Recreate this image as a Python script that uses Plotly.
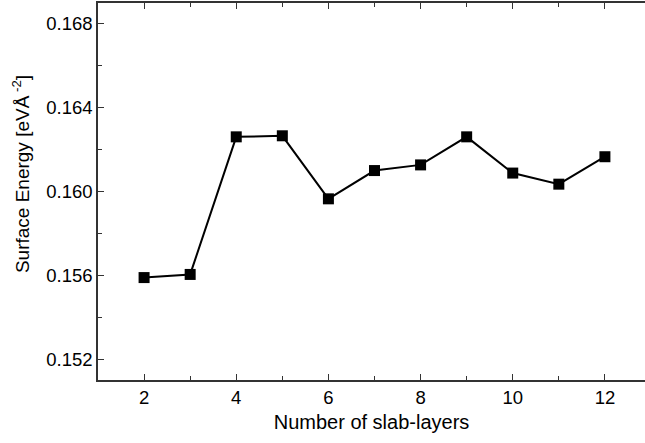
import plotly.graph_objects as go

# Slab thickness (number of layers) and computed surface energy
layers = [2, 3, 4, 5, 6, 7, 8, 9, 10, 11, 12]
surface_energy = [0.15589, 0.15604, 0.16261, 0.16266, 0.15965, 0.16100,
                  0.16127, 0.16261, 0.16088, 0.16035, 0.16166]

x_ticks = [2, 4, 6, 8, 10, 12]
y_ticks = [0.152, 0.156, 0.160, 0.164, 0.168]
y_tick_text = ["0.152", "0.156", "0.160", "0.164", "0.168"]

axis_color = "#333333"
font_family = "Liberation Sans, Arial, sans-serif"

fig = go.Figure()
fig.add_trace(go.Scatter(
    x=layers, y=surface_energy,
    mode="lines+markers",
    line=dict(color="black", width=2),
    marker=dict(symbol="square", size=11, color="black"),
    showlegend=False,
))

common_axis = dict(
    showline=True, linecolor=axis_color, linewidth=1.5,
    ticks="inside", ticklen=6, tickwidth=1.2,
    tickcolor=axis_color, showgrid=False, zeroline=False,
)

# bottom axis, mirrored on top (frame continues past the right edge)
fig.update_xaxes(
    range=[1, 12.87], tickvals=x_ticks, mirror="allticks",
    tickfont=dict(family=font_family, size=18.5, color="black"),
    minor=dict(dtick=1, tick0=1, ticks="inside", ticklen=4, tickcolor=axis_color, showgrid=False),
    title=dict(text="Number of slab-layers", font=dict(family=font_family, size=20, color="black"), standoff=8),
    **common_axis,
)
fig.update_yaxes(
    range=[0.151, 0.169], tickvals=y_ticks, ticktext=y_tick_text, mirror=False,
    tickfont=dict(family=font_family, size=18.5, color="black"),
    minor=dict(dtick=0.002, tick0=0.150, ticks="inside", ticklen=4, tickcolor=axis_color, showgrid=False),
    **common_axis,
)

# vertical axis title placed as rotated text left of the tick labels
fig.add_annotation(
    text="Surface Energy [eVÅ<sup> -2</sup>]",
    xref="paper", yref="paper", x=-0.142, y=0.547,
    xanchor="center", yanchor="middle", textangle=-90, showarrow=False,
    font=dict(family=font_family, size=19, color="black"),
)

fig.update_layout(
    width=645, height=443,
    margin=dict(l=98, r=0, t=3, b=63),
    plot_bgcolor="white", paper_bgcolor="white",
)

fig.write_html("out.html")
